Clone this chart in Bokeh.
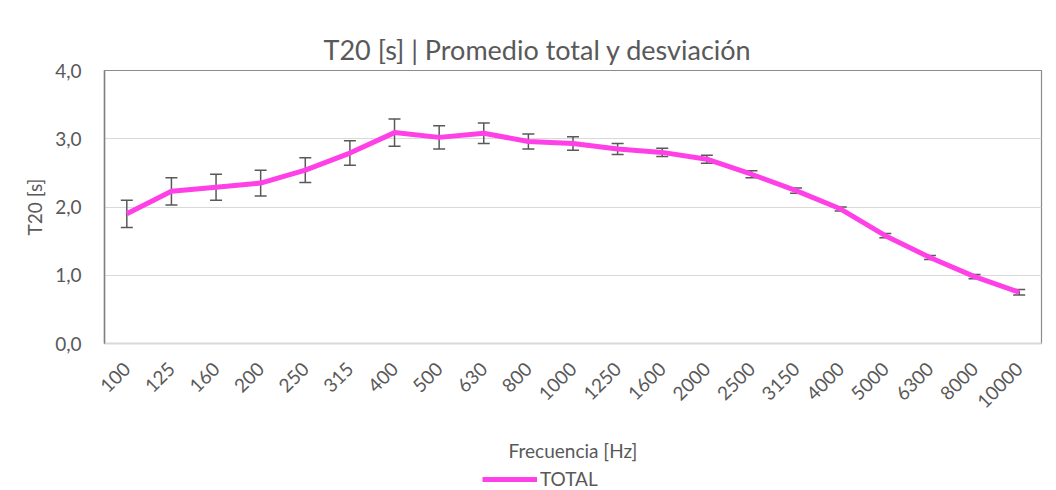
import math
from bokeh.plotting import figure
from bokeh.layouts import column
from bokeh.models import (ColumnDataSource, Whisker, TeeHead, Legend, LegendItem,
                          FixedTicker, Title, Range1d)
from bokeh.embed import file_html
from bokeh.resources import INLINE

freqs = ["100", "125", "160", "200", "250", "315", "400", "500", "630", "800", "1000",
         "1250", "1600", "2000", "2500", "3150", "4000", "5000", "6300", "8000", "10000"]
t20 = [1.90, 2.23, 2.29, 2.35, 2.54, 2.79, 3.09, 3.02, 3.08, 2.96, 2.93,
       2.85, 2.80, 2.70, 2.48, 2.24, 1.97, 1.58, 1.26, 0.98, 0.75]
desv = [0.20, 0.20, 0.19, 0.19, 0.18, 0.18, 0.20, 0.17, 0.15, 0.11, 0.10,
        0.08, 0.06, 0.06, 0.05, 0.04, 0.03, 0.03, 0.03, 0.03, 0.04]
y_ticks = [0.0, 1.0, 2.0, 3.0, 4.0]
y_tick_labels = ["0,0", "1,0", "2,0", "3,0", "4,0"]
series_name = "TOTAL"

FONT = "Lato"
TXT = "#595959"
LINE_COLOR = "#FF40E6"

src = ColumnDataSource(dict(
    f=freqs, t=t20,
    up=[a + b for a, b in zip(t20, desv)],
    lo=[a - b for a, b in zip(t20, desv)],
))

p = figure(width=1048, height=465, x_range=freqs, y_range=(0, 4.0),
           output_backend="svg", toolbar_location=None,
           min_border_left=104, min_border_top=70, min_border_right=7, min_border_bottom=121)

p.title = Title(text="T20 [s] | Promedio total y desviación", align="left",
                text_font=FONT, text_font_size="27px", text_font_style="normal",
                text_color=TXT, offset=219, standoff=9)

line = p.line("f", "t", source=src, line_color=LINE_COLOR, line_width=5, line_join="round")

w = Whisker(base="f", upper="up", lower="lo", source=src,
            line_color="#595959", line_width=1.5,
            upper_head=TeeHead(size=12, line_color="#595959", line_width=1.5),
            lower_head=TeeHead(size=12, line_color="#595959", line_width=1.5))
p.add_layout(w)

p.outline_line_color = "#8c8c8c"
p.outline_line_width = 1.2
p.xgrid.grid_line_color = None
p.ygrid.grid_line_color = "#d9d9d9"
p.ygrid.grid_line_width = 1

p.yaxis.ticker = FixedTicker(ticks=y_ticks)
p.yaxis.major_label_overrides = {k: v for k, v in zip(y_ticks, y_tick_labels)}
for ax in (p.xaxis[0], p.yaxis[0]):
    ax.major_tick_line_color = None
    ax.minor_tick_line_color = None
    ax.major_tick_out = 0
    ax.major_tick_in = 0
    ax.major_label_text_font = FONT
    ax.major_label_text_font_size = "19px"
    ax.major_label_text_color = TXT
    ax.axis_label_text_font = FONT
    ax.axis_label_text_font_size = "19px"
    ax.axis_label_text_color = TXT
    ax.axis_label_text_font_style = "normal"

p.yaxis.axis_line_color = "#7f7f7f"
p.yaxis.axis_line_width = 1.5
p.xaxis.axis_line_color = "#d9d9d9"
p.xaxis.axis_line_width = 2

p.yaxis.axis_label = "T20 [s]"
p.yaxis.major_label_standoff = 23
p.yaxis.axis_label_standoff = 6
p.xaxis.axis_label = "Frecuencia [Hz]"
p.xaxis.major_label_orientation = math.pi / 4
p.xaxis.major_label_standoff = 22
p.xaxis.axis_label_standoff = 22

# legend strip below the chart (series drawn off-range so only the legend shows)
lf = figure(width=1048, height=25, x_range=p.x_range, y_range=Range1d(10, 11),
            output_backend="svg", toolbar_location=None,
            min_border=0, min_border_left=0, min_border_right=0,
            min_border_top=0, min_border_bottom=0)
lf.axis.visible = False
lf.grid.visible = False
lf.outline_line_color = None
leg_line = lf.line("f", "t", source=src, line_color=LINE_COLOR, line_width=5)
legend = Legend(items=[LegendItem(label=series_name, renderers=[leg_line])],
                location=(378, 0), orientation="horizontal",
                glyph_width=55, glyph_height=20, label_standoff=3,
                padding=0, spacing=0, margin=0, border_line_color=None,
                background_fill_alpha=0,
                label_text_font=FONT, label_text_font_size="19px", label_text_color=TXT)
lf.add_layout(legend)

layout = column(p, lf, spacing=0)
open("out.html", "w").write(file_html(layout, INLINE))
